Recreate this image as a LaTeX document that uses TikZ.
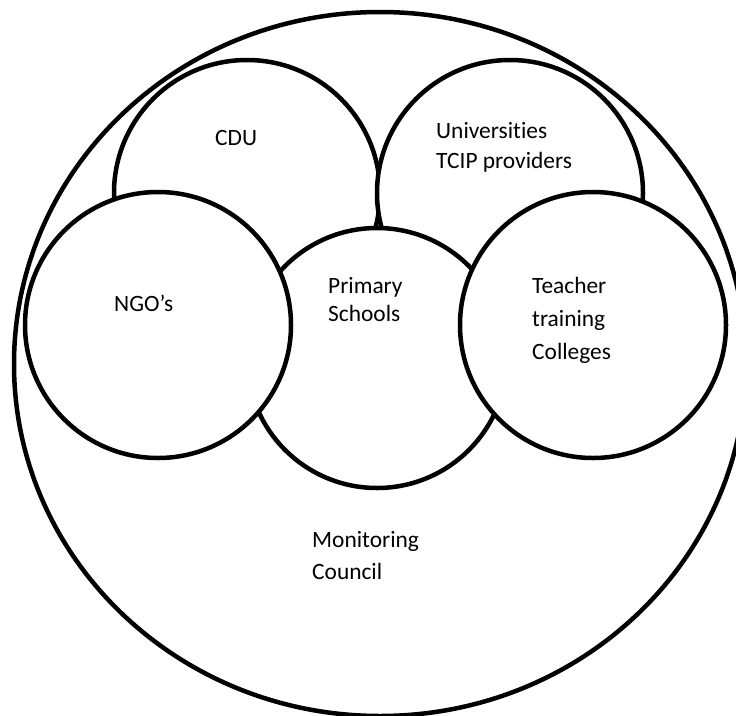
\documentclass[tikz,border=0pt]{standalone}
\usepackage{fontspec}
\setmainfont{Carlito}[Ligatures={NoCommon}]
\usetikzlibrary{shapes.geometric}
\begin{document}
\begin{tikzpicture}[x=1pt,y=-1pt,
  ring/.style={circle,draw=black,fill=white,line width=4.5pt,inner sep=0pt,minimum size=266pt},
  lbl/.style={anchor=base west,inner sep=0pt,font=\fontsize{23.4}{28}\selectfont,text=black}]
\useasboundingbox (0,0) rectangle (736,715);
\node[ellipse,draw=black,fill=white,line width=4.5pt,inner sep=0pt,minimum width=732pt,minimum height=704pt] (council) at (380,364) {};
\node[ring] (cdu) at (247,193) {};
\node[ring] (univ) at (510,193) {};
\node[ring,minimum size=260pt] (primary) at (377,358) {};
\node[ring] (ngo) at (158,325) {};
\node[ring] (ttc) at (593,325) {};
\node[lbl] (tcdu) at (215,145) {CDU};
\node[lbl] (tuniA) at (436,138) {Universities};
\node[lbl] (tuniB) at (436,168) {TCIP providers};
\node[lbl] (tngo) at (114,311) {NGO’s};
\node[lbl] (tpriA) at (328,293) {Primary};
\node[lbl] (tpriB) at (328,321) {Schools};
\node[lbl] (tttcA) at (532,293) {Teacher};
\node[lbl] (tttcB) at (532,326) {training};
\node[lbl] (tttcC) at (532,359) {Colleges};
\node[lbl] (tmonA) at (312,547) {Monitoring};
\node[lbl] (tmonB) at (312,579) {Council};
\end{tikzpicture}
\end{document}
